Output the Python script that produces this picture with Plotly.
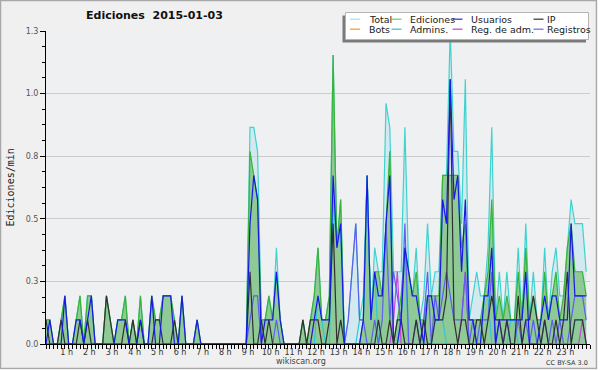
import plotly.graph_objects as go

# ---------------- data (edits per minute, 10-minute bins, 2015-01-03) ----------------
total = [
    .1, .1, 0, 0, .1, .2,     # 0 h
    0, 0, .1, .2, 0, .2,      # 1 h
    .2, 0, 0, 0, .2, .1,      # 2 h
    0, .1, .1, .2, 0, .1,     # 3 h
    0, .2, 0, 0, .2, .1,      # 4 h
    .1, .2, .2, .2, .1, 0,    # 5 h
    .2, 0, 0, 0, .1, 0,       # 6 h
    0, 0, 0, 0, 0, 0,         # 7 h
    0, 0, 0, 0, 0, 0,         # 8 h
    .9, .9, .8, .1, .1, .2,   # 9 h
    .1, .4, .1, 0, 0, 0,      # 10 h
    0, 0, .1, 0, .1, .2,      # 11 h
    .4, .1, .1, .2, 1.2, .4,  # 12 h
    .6, 0, .1, .3, .5, .1,    # 13 h
    .2, .7, .1, .4, .3, .3,   # 14 h
    1.0, .9, .3, .3, .3, .9,  # 15 h
    .3, .2, .4, .1, .2, .5,   # 16 h
    .2, .3, .3, .7, .7, 1.3,  # 17 h
    .8, .8, .5, 1.1, .1, .2,  # 18 h
    .3, .2, .2, .4, .9, .1,   # 19 h
    .3, .1, .3, .1, .1, .4,   # 20 h
    .1, .5, .1, .3, .1, .1,   # 21 h
    .4, .1, .3, .4, .2, .2,   # 22 h
    .4, .6, .5, .5, .5, .3,   # 23 h
]
ediciones = [
    .1, .1, 0, 0, .1, .2,
    0, 0, .1, .2, 0, .2,
    .2, 0, 0, 0, .2, .1,
    0, .1, .1, .2, 0, .1,
    0, .2, 0, 0, .2, .1,
    .1, .2, .2, .2, .1, 0,
    .2, 0, 0, 0, .1, 0,
    0, 0, 0, 0, 0, 0,
    0, 0, 0, 0, 0, 0,
    .8, .7, .6, .1, .1, .2,
    .1, .3, .1, 0, 0, 0,
    0, 0, .1, 0, .1, .2,
    .4, .1, .1, .2, 1.2, .4,
    .6, 0, 0, 0, 0, 0,
    .1, .7, .1, .3, .3, .2,
    .5, .8, 0, .1, .2, .4,
    .3, .2, .3, .1, .1, .2,
    .2, .2, .2, .7, .7, .7,
    .7, .7, .4, .5, .1, .1,
    .1, .1, .2, .3, .6, .1,
    .2, .1, .2, .1, .1, .3,
    .1, .4, .1, .2, .1, .1,
    .3, .1, .2, .3, .1, .2,
    .4, .5, .3, .3, .3, .2,
]
usuarios = [
    0, .1, 0, 0, 0, .2,
    0, 0, .1, .1, 0, .1,
    .2, 0, 0, 0, 0, 0,
    0, .1, .1, .1, 0, 0,
    0, .1, 0, 0, .2, 0,
    0, .2, .2, .2, 0, 0,
    .2, 0, 0, 0, .1, 0,
    0, 0, 0, 0, 0, 0,
    0, 0, 0, 0, 0, 0,
    .5, .7, .6, 0, .1, .1,
    .1, .3, .1, 0, 0, 0,
    0, 0, 0, 0, 0, .1,
    .2, .1, .1, .1, .7, .4,
    .5, 0, 0, 0, 0, 0,
    .1, .7, .1, .3, .2, .2,
    .5, .7, 0, 0, .1, .4,
    .3, .2, .2, .1, 0, .2,
    .2, .1, .1, .6, .5, 1.1,
    .6, .7, .3, .6, .1, .1,
    0, 0, .2, .2, .4, 0,
    .1, .1, .1, .1, .1, .1,
    .1, .3, 0, 0, 0, .1,
    .2, .1, .2, .2, .1, .1,
    .1, .5, .2, .2, .2, .2,
]
ip = [
    .1, 0, 0, 0, .1, 0,
    0, 0, 0, .1, 0, .1,
    0, 0, 0, 0, .2, .1,
    0, 0, 0, .1, 0, .1,
    0, .1, 0, 0, 0, .1,
    .1, 0, 0, 0, .1, 0,
    0, 0, 0, 0, 0, 0,
    0, 0, 0, 0, 0, 0,
    0, 0, 0, 0, 0, 0,
    .3, 0, 0, .1, 0, .1,
    0, 0, 0, 0, 0, 0,
    0, 0, .1, 0, .1, .1,
    .1, 0, 0, .1, .5, 0,
    .1, 0, 0, 0, 0, 0,
    0, 0, 0, 0, .1, 0,
    0, .1, 0, .1, .1, 0,
    0, 0, .1, 0, .1, 0,
    0, .1, .1, .1, .2, 1.1,
    .1, 0, .1, .1, 0, 0,
    .1, .1, 0, .1, .2, .1,
    .1, 0, .1, 0, 0, .2,
    0, .1, .1, .2, .1, 0,
    .1, 0, 0, .1, 0, .1,
    .3, 0, .1, .1, .1, 0,
]
bots = [
    0, 0, 0, 0, 0, 0,
    0, 0, 0, 0, 0, 0,
    0, 0, 0, 0, 0, 0,
    0, 0, 0, 0, 0, 0,
    0, 0, 0, 0, 0, 0,
    0, 0, 0, 0, 0, 0,
    0, 0, 0, 0, 0, 0,
    0, 0, 0, 0, 0, 0,
    0, 0, 0, 0, 0, 0,
    0, 0, 0, 0, 0, 0,
    0, 0, 0, 0, 0, 0,
    0, 0, 0, 0, 0, .1,
    .1, 0, 0, 0, 0, 0,
    0, 0, 0, 0, 0, 0,
    0, 0, 0, 0, 0, 0,
    0, 0, 0, 0, 0, 0,
    0, 0, 0, 0, 0, 0,
    0, 0, 0, 0, 0, 0,
    0, 0, 0, 0, 0, 0,
    0, 0, 0, 0, 0, 0,
    0, 0, 0, 0, 0, 0,
    0, 0, 0, 0, 0, 0,
    0, 0, 0, 0, 0, 0,
    0, 0, 0, 0, 0, 0,
]
admins = [
    0, 0, 0, 0, 0, 0,
    0, 0, 0, 0, 0, 0,
    0, 0, 0, 0, 0, 0,
    0, 0, 0, 0, 0, 0,
    0, 0, 0, 0, 0, 0,
    0, 0, 0, 0, 0, 0,
    0, 0, 0, 0, 0, 0,
    0, 0, 0, 0, 0, 0,
    0, 0, 0, 0, 0, 0,
    0, 0, 0, 0, 0, 0,
    0, 0, 0, 0, 0, 0,
    0, 0, 0, 0, 0, 0,
    .2, .1, 0, 0, .6, .4,
    .5, 0, 0, 0, 0, .1,
    .1, .7, .1, .3, 0, 0,
    0, 0, 0, 0, .1, .4,
    0, 0, 0, 0, 0, 0,
    0, .1, .1, .1, 0, 0,
    0, 0, 0, 0, 0, 0,
    0, 0, .2, .2, 0, 0,
    0, 0, 0, .1, .1, 0,
    0, 0, 0, 0, 0, 0,
    0, 0, 0, 0, 0, 0,
    0, 0, .1, .1, .1, .1,
]
reg_adm = [
    0, 0, 0, 0, 0, 0,
    0, 0, 0, 0, 0, 0,
    0, 0, 0, 0, 0, 0,
    0, 0, 0, 0, 0, 0,
    0, 0, 0, 0, 0, 0,
    0, 0, 0, 0, 0, 0,
    0, 0, 0, 0, 0, 0,
    0, 0, 0, 0, 0, 0,
    0, 0, 0, 0, 0, 0,
    0, 0, 0, 0, 0, 0,
    0, 0, 0, 0, 0, 0,
    0, 0, 0, 0, 0, 0,
    0, 0, 0, 0, 0, 0,
    0, 0, 0, 0, 0, 0,
    0, 0, 0, 0, 0, 0,
    0, 0, .1, .3, 0, 0,
    0, 0, 0, 0, 0, 0,
    0, 0, 0, 0, 0, 0,
    0, 0, .1, .3, 0, 0,
    0, 0, 0, 0, 0, 0,
    0, 0, 0, 0, 0, 0,
    0, 0, 0, 0, 0, 0,
    0, 0, 0, 0, 0, 0,
    0, 0, 0, 0, .1, 0,
]
registros = [
    0, 0, 0, 0, 0, 0,
    0, 0, 0, 0, 0, 0,
    0, 0, 0, 0, 0, 0,
    0, 0, 0, 0, 0, 0,
    0, 0, 0, 0, 0, 0,
    0, 0, 0, 0, 0, 0,
    0, 0, 0, 0, 0, 0,
    0, 0, 0, 0, 0, 0,
    0, 0, 0, 0, 0, 0,
    .1, .2, .2, 0, 0, 0,
    0, .1, 0, 0, 0, 0,
    0, 0, 0, 0, 0, 0,
    0, 0, 0, 0, 0, 0,
    0, 0, .1, .3, .5, .1,
    .1, 0, 0, .1, 0, .1,
    .5, .1, .3, .2, .1, .5,
    0, 0, .1, 0, .1, .3,
    0, .2, .1, .2, .3, .2,
    .1, .1, .1, .3, 0, .1,
    0, .1, .1, .1, .3, 0,
    .1, 0, .1, 0, 0, .1,
    0, .1, 0, .1, 0, 0,
    .1, 0, .1, 0, .1, 0,
    0, .1, .2, .2, .2, .1,
]

hour_ticks = list(range(1, 24))
hour_labels = ["1 h", "2 h", "3 h", "4 h", "5 h", "6 h", "7 h", "8 h", "9 h", "10 h", "11 h", "12 h",
               "13 h", "14 h", "15 h", "16 h", "17 h", "18 h", "19 h", "20 h", "21 h", "22 h", "23 h"]
y_ticks = [0, 0.26, 0.52, 0.78, 1.04, 1.3]
y_labels = ["0.0", "0.3", "0.5", "0.8", "1.0", "1.3"]

# ---------------- figure ----------------
W, H = 600, 370
ML, MR, MT, MB = 46, 10, 31, 26
PW, PH = W - ML - MR, H - MT - MB


def px(x):
    return (x - ML) / PW


def py(y):
    return (H - MB - y) / PH


x = [i / 6 for i in range(len(total))]

fig = go.Figure()


def add(y, color, width=1.2, fill=None, fillcolor=None):
    fig.add_trace(go.Scatter(x=x, y=y, mode="lines",
                             line=dict(color=color, width=width),
                             fill=fill, fillcolor=fillcolor,
                             showlegend=False, hoverinfo="skip"))


add(total, "#3fd3cf", 1.2, "tozeroy", "rgba(178,224,234,0.45)")
add(ediciones, "#39b339", 1.2, "tozeroy", "rgba(120,190,120,0.75)")
add(bots, "#ff9a1f")
add(admins, "#2ec8d8")
add(reg_adm, "#c844dc")
add(registros, "#5e5ef0")
add(ip, "#303030")
add(usuarios, "#1818e6")

FONT = "DejaVu Sans"

shapes = []
annotations = []

# outer frame of the picture
shapes.append(dict(type="rect", xref="paper", yref="paper",
                   x0=px(0.5), x1=px(596.5), y0=py(368.5), y1=py(0.5),
                   line=dict(color="#a8a8a8", width=1.5), layer="above"))
shapes.append(dict(type="rect", xref="paper", yref="paper",
                   x0=px(597.5), x1=px(601), y0=py(371), y1=py(-1),
                   line=dict(width=0), fillcolor="#ffffff", layer="above"))
shapes.append(dict(type="rect", xref="paper", yref="paper",
                   x0=px(-1), x1=px(601), y0=py(371), y1=py(369.5),
                   line=dict(width=0), fillcolor="#ffffff", layer="above"))

# legend box with shadow
shapes.append(dict(type="rect", xref="paper", yref="paper",
                   x0=px(342.5), x1=px(586), y0=py(42.5), y1=py(15.5),
                   line=dict(width=0), fillcolor="#7a7a7a", layer="above"))
shapes.append(dict(type="rect", xref="paper", yref="paper",
                   x0=px(345.5), x1=px(588.5), y0=py(39.5), y1=py(12.5),
                   line=dict(color="#b4b4b4", width=1), fillcolor="#ffffff", layer="above"))

legend_names = ["Total", "Ediciones", "Usuarios", "IP", "Bots", "Admins.", "Reg. de adm.", "Registros"]
legend_colors = ["#a8e4e2", "#7ccc7c", "#3a3ad8", "#404040", "#ff9a33", "#3cc8c8", "#c850d8", "#7070ee"]
col_line_x = [350, 391.5, 452.5, 533.5]
col_text_x = [366.5, 407.5, 468.5, 545]
row_y = [19.2, 29.2]
for k, (name, col) in enumerate(zip(legend_names, legend_colors)):
    r, c = divmod(k, 4)
    shapes.append(dict(type="line", xref="paper", yref="paper",
                       x0=px(col_line_x[c]), x1=px(col_line_x[c] + 10),
                       y0=py(row_y[r]), y1=py(row_y[r]),
                       line=dict(color=col, width=1.3), layer="above"))
    annotations.append(dict(text=name, xref="paper", yref="paper",
                            x=px(col_text_x[c]), y=py(row_y[r]), xanchor="left", yanchor="middle",
                            showarrow=False, font=dict(family=FONT, size=9.5, color="#202020")))

# title and texts
annotations.append(dict(text="<b>Ediciones\u00a0 2015-01-03</b>", xref="paper", yref="paper",
                        x=px(154), y=py(16), xanchor="center", yanchor="middle", showarrow=False,
                        font=dict(family=FONT, size=11, color="#111111")))
annotations.append(dict(text="Ediciones/min", xref="paper", yref="paper",
                        x=px(9.5), y=py(188), xanchor="center", yanchor="middle", showarrow=False,
                        textangle=-90, font=dict(family="DejaVu Sans Mono", size=10, color="#222222")))
annotations.append(dict(text="wikiscan.org", xref="paper", yref="paper",
                        x=px(301), y=py(361.5), xanchor="center", yanchor="middle", showarrow=False,
                        font=dict(family=FONT, size=8, color="#444444")))
annotations.append(dict(text="CC BY-SA 3.0", xref="paper", yref="paper",
                        x=px(589.5), y=py(362.5), xanchor="right", yanchor="middle", showarrow=False,
                        font=dict(family=FONT, size=6.5, color="#333333")))

fig.update_layout(
    width=W, height=H, autosize=False,
    margin=dict(l=ML, r=MR, t=MT, b=MB, pad=0),
    paper_bgcolor="#f0f0f0", plot_bgcolor="#eef0f2",
    showlegend=False,
    shapes=shapes, annotations=annotations,
    xaxis=dict(range=[0, 24], showgrid=False, zeroline=False,
               showline=True, linecolor="#000000", linewidth=1,
               ticks="outside", ticklen=4, tickwidth=1, tickcolor="#000000",
               tickmode="array", tickvals=hour_ticks, ticktext=hour_labels,
               tickfont=dict(family=FONT, size=8, color="#333333"),
               ticklabelstandoff=-4, ticklabelshift=-2,
               minor=dict(tickmode="linear", tick0=0, dtick=1 / 6, ticks="outside",
                          ticklen=4, tickwidth=1, tickcolor="#000000", showgrid=False),
               fixedrange=True),
    yaxis=dict(range=[0, 1.3], showgrid=True, gridcolor="#cccccc", gridwidth=1, zeroline=False,
               showline=True, linecolor="#000000", linewidth=1,
               ticks="outside", ticklen=5, tickwidth=1, tickcolor="#000000",
               tickmode="array", tickvals=y_ticks, ticktext=y_labels,
               tickfont=dict(family=FONT, size=8, color="#555555"),
               minor=dict(tickmode="linear", tick0=0, dtick=0.065, ticks="outside",
                          ticklen=3, tickwidth=1, tickcolor="#000000", showgrid=False),
               fixedrange=True),
)

fig.write_html("out.html", config={"displayModeBar": False},
               post_script="document.body.style.margin='0';document.body.style.padding='0';"
                           "document.documentElement.style.overflow='hidden';")
